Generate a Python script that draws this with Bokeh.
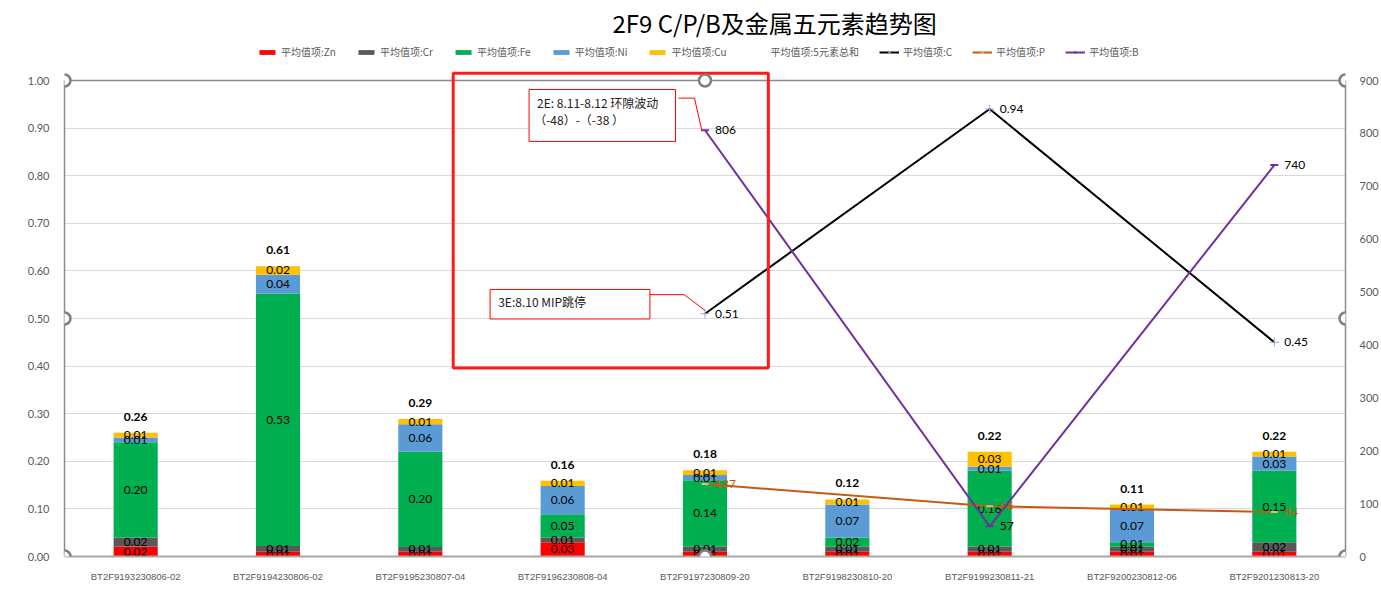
from bokeh.plotting import figure
from bokeh.models import (FactorRange, Range1d, LinearAxis, SingleIntervalTicker,
                          NumeralTickFormatter, Legend, LegendItem, BoxAnnotation,
                          Label, Span, ColumnDataSource)
from bokeh.core.properties import value
from bokeh.embed import file_html
from bokeh.resources import INLINE

# ---------------- data ----------------
categories = ["BT2F9193230806-02", "BT2F9194230806-02", "BT2F9195230807-04",
              "BT2F9196230808-04", "BT2F9197230809-20", "BT2F9198230810-20",
              "BT2F9199230811-21", "BT2F9200230812-06", "BT2F9201230813-20"]
zn = [0.021, 0.010, 0.010, 0.030, 0.010, 0.010, 0.010, 0.010, 0.010]
cr = [0.019, 0.012, 0.010, 0.010, 0.011, 0.011, 0.011, 0.011, 0.020]
fe = [0.200, 0.530, 0.200, 0.049, 0.139, 0.019, 0.159, 0.009, 0.150]
ni = [0.010, 0.040, 0.058, 0.059, 0.011, 0.069, 0.009, 0.070, 0.030]
cu = [0.010, 0.018, 0.011, 0.011, 0.010, 0.011, 0.031, 0.009, 0.010]
totals = [0.26, 0.61, 0.29, 0.16, 0.18, 0.12, 0.22, 0.11, 0.22]
c_vals = [None, None, None, None, 0.51, None, 0.94, None, 0.45]
p_vals = [None, None, None, None, 137, None, 95, None, 84]
b_vals = [None, None, None, None, 806, None, 57, None, 740]

series_names = ["Zn", "Cr", "Fe", "Ni", "Cu"]
series_vals = [zn, cr, fe, ni, cu]
series_colors = ["#FF0000", "#595959", "#00B050", "#5B9BD5", "#FFC000"]

LAT = "'Lato', 'Liberation Sans', sans-serif"
CJK = "'Noto Sans CJK SC', sans-serif"
GREY = "#595959"

# frame runs from the legend row down to the x axis; the value area (0..1) is the lower part
FRAME_TOP, PLOT_TOP, PLOT_BOTTOM = 42, 80, 556
y_top = (PLOT_BOTTOM - FRAME_TOP) / (PLOT_BOTTOM - PLOT_TOP)   # in left-axis units

p = figure(x_range=FactorRange(*categories, range_padding=0), y_range=Range1d(0, y_top),
           width=1381, height=593, output_backend="svg", toolbar_location=None,
           min_border_left=64, min_border_right=32, min_border_top=FRAME_TOP,
           min_border_bottom=593 - PLOT_BOTTOM,
           background_fill_color="white", border_fill_color="white")
p.extra_y_ranges = {"right": Range1d(0, 900 * y_top)}

# title
p.title.text = "2F9  C/P/B及金属五元素趋势图"
p.title.text_font = CJK
p.title.text_font_size = "24px"
p.title.text_font_style = "normal"
p.title.text_color = "#000000"
p.title.align = "left"
p.title.offset = 548
p.title.standoff = 5

# axes
p.outline_line_color = None
p.xgrid.grid_line_color = None
p.ygrid.grid_line_color = "#D9D9D9"
p.ygrid.ticker = SingleIntervalTicker(interval=0.1)
p.add_layout(Span(location=1.0, dimension="width", line_color="#8C8C8C", line_width=1.5))

ya = p.yaxis[0]
ya.ticker = SingleIntervalTicker(interval=0.1)
ya.formatter = NumeralTickFormatter(format="0.00")
ya.bounds = (0, 1)
ya.major_tick_line_color = None
ya.minor_tick_line_color = None
ya.axis_line_color = "#8C8C8C"
ya.axis_line_width = 1.5
ya.major_label_text_color = GREY
ya.major_label_text_font = LAT
ya.major_label_text_font_size = "11px"
ya.major_label_standoff = 9

xa = p.xaxis[0]
xa.major_tick_line_color = None
xa.minor_tick_line_color = None
xa.axis_line_color = "#A6A6A6"
xa.axis_line_width = 2
xa.major_label_text_color = GREY
xa.major_label_text_font = "'Liberation Sans Narrow', 'Liberation Sans', sans-serif"
xa.major_label_text_font_size = "9.5px"
xa.major_label_standoff = 8

ra = LinearAxis(y_range_name="right", ticker=SingleIntervalTicker(interval=100),
                bounds=(0, 900))
ra.major_tick_line_color = None
ra.minor_tick_line_color = None
ra.axis_line_color = "#8C8C8C"
ra.axis_line_width = 1.5
ra.major_label_text_color = GREY
ra.major_label_text_font = LAT
ra.major_label_text_font_size = "11px"
ra.major_label_standoff = 8
p.add_layout(ra, "right")

# stacked bars
src = ColumnDataSource(dict(cat=categories, Zn=zn, Cr=cr, Fe=fe, Ni=ni, Cu=cu))
bars = p.vbar_stack(series_names, x="cat", width=0.31, color=series_colors,
                    line_color=None, source=src)

# segment labels
lx, ly, lt = [], [], []
bottoms = [0.0] * len(categories)
for vals in series_vals:
    for i, v in enumerate(vals):
        lx.append(categories[i])
        ly.append(bottoms[i] + v / 2)
        lt.append(f"{v:.2f}")
        bottoms[i] += v
p.text(x=lx, y=ly, text=lt, text_align="center", text_baseline="middle",
       text_font=value(LAT), text_font_size="12px", text_color="#000000")

# totals (invisible series with labels)
tot_r = p.line(x=categories, y=totals, line_alpha=0)
p.text(x=categories, y=bottoms, text=[f"{t:.2f}" for t in totals], text_align="center",
       text_baseline="middle", y_offset=-16, text_font=value(LAT), text_font_size="12px",
       text_font_style="bold", text_color="#000000")


def pts(vals):
    xs = [categories[i] for i, v in enumerate(vals) if v is not None]
    ys = [v for v in vals if v is not None]
    return xs, ys

cx, cy = pts(c_vals)
px_, py_ = pts(p_vals)
bx, by = pts(b_vals)

c_line = p.line(cx, cy, line_color="#000000", line_width=2)
c_mk = p.scatter(cx, cy, marker="cross", size=9, line_color="#8FAADC", line_width=1)
p.text(x=cx, y=cy, text=[f"{v:.2f}" for v in cy], x_offset=10, text_align="left",
       text_baseline="middle", text_font=value(LAT), text_font_size="12px", text_color="#000000")

p_line = p.line(px_, py_, line_color="#C55A11", line_width=2, y_range_name="right")
p_mk = p.scatter(px_, py_, marker="dash", size=7, line_color="#F4B183", line_width=2,
                 y_range_name="right")
p.text(x=px_, y=py_, text=[f"{v:.0f}" for v in py_], x_offset=10, text_align="left",
       text_baseline="middle", text_font=value(LAT), text_font_size="12px",
       text_color="#C55A11", y_range_name="right")

b_line = p.line(bx, by, line_color="#7030A0", line_width=2, y_range_name="right")
b_mk = p.scatter(bx, by, marker="dash", size=8, line_color="#7030A0", line_width=2,
                 y_range_name="right")
p.text(x=bx, y=by, text=[f"{v:.0f}" for v in by], x_offset=10, text_align="left",
       text_baseline="middle", text_font=value(LAT), text_font_size="12px",
       text_color="#000000", y_range_name="right")

# legend (placed in the top strip of the frame)
items = [LegendItem(label="平均值项:" + n, renderers=[r]) for n, r in zip(series_names, bars)]
items.append(LegendItem(label="平均值项:5元素总和", renderers=[tot_r]))
items.append(LegendItem(label="平均值项:C", renderers=[c_line, c_mk]))
items.append(LegendItem(label="平均值项:P", renderers=[p_line, p_mk]))
items.append(LegendItem(label="平均值项:B", renderers=[b_line, b_mk]))
leg = Legend(items=items, orientation="horizontal", location=(193, 497),
             label_text_font=CJK, label_text_font_size="10px", label_text_color=GREY,
             glyph_width=20, glyph_height=6, label_standoff=4, spacing=20, padding=4,
             margin=0, border_line_color=None, background_fill_alpha=0,
             label_height=12)
p.add_layout(leg, "center")

# annotation boxes (positions in synthetic category units / left-axis units)
def bx_(l, r, b, t, **kw):
    p.add_layout(BoxAnnotation(left=l, right=r, bottom=b, top=t, **kw))

bx_(2.731, 4.945, 0.396, 1.015, fill_alpha=0, line_color="#FF1A1A", line_alpha=1,
    line_width=3)
bx_(3.264, 4.293, 0.872, 0.981, fill_color="white", fill_alpha=1, line_color="#FF0000",
    line_alpha=1, line_width=1)
bx_(2.99, 4.113, 0.499, 0.561, fill_color="white", fill_alpha=1, line_color="#FF0000",
    line_alpha=1, line_width=1)

p.line([4.314, 4.426, 4.477], [0.963, 0.963, 0.896], line_color="#FF0000", line_width=1)
p.line([4.113, 4.354, 4.5], [0.550, 0.550, 0.517], line_color="#FF0000", line_width=1)

for txt, x, y in [("2E: 8.11-8.12 环隙波动", 3.32, 0.954),
                  ("（-48）-（-38 ）", 3.30, 0.918),
                  ("3E:8.10 MIP跳停", 3.047, 0.536)]:
    p.add_layout(Label(x=x, y=y, text=txt, text_font=CJK, text_font_size="12px",
                       text_baseline="middle", text_align="left", text_color="#222222"))

# selection handles
for hx in (0, 4.5, 9):
    for hy in (0, 0.5, 1):
        if hx == 4.5 and hy == 0.5:
            continue
        p.add_layout(BoxAnnotation(left=hx - 0.042, right=hx + 0.042, bottom=hy - 0.0126,
                                   top=hy + 0.0126, fill_color="white", fill_alpha=1,
                                   line_color="#7F7F7F", line_alpha=1, line_width=2.5,
                                   border_radius=6))

open("out.html", "w").write(file_html(p, INLINE))
